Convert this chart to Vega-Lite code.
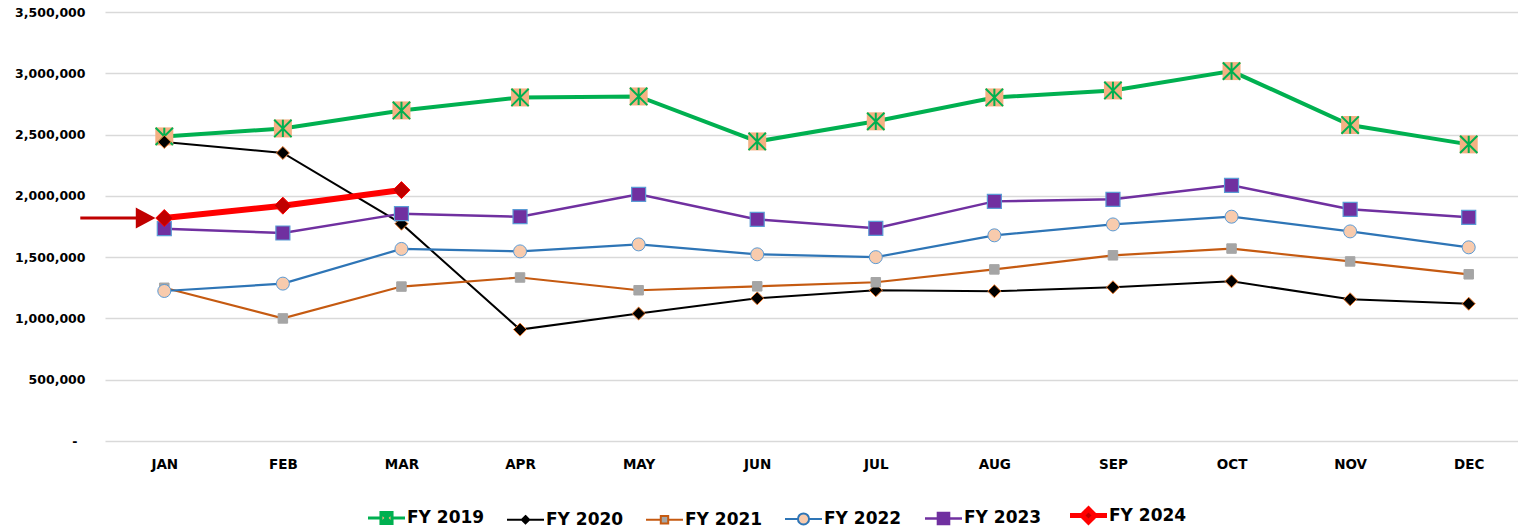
{
  "$schema": "https://vega.github.io/schema/vega-lite/v6.json",
  "width": 1423,
  "height": 429,
  "autosize": {"type": "none"},
  "padding": {"left": 105, "top": 12, "right": 0, "bottom": 89},
  "background": "white",
  "config": {"view": {"stroke": null}, "font": "DejaVu Sans"},
  "data": {"values": [
    {"month": "JAN", "series": "FY 2019", "value": 2485000},
    {"month": "FEB", "series": "FY 2019", "value": 2550000},
    {"month": "MAR", "series": "FY 2019", "value": 2697000},
    {"month": "APR", "series": "FY 2019", "value": 2803000},
    {"month": "MAY", "series": "FY 2019", "value": 2811000},
    {"month": "JUN", "series": "FY 2019", "value": 2444000},
    {"month": "JUL", "series": "FY 2019", "value": 2608000},
    {"month": "AUG", "series": "FY 2019", "value": 2803000},
    {"month": "SEP", "series": "FY 2019", "value": 2860000},
    {"month": "OCT", "series": "FY 2019", "value": 3018000},
    {"month": "NOV", "series": "FY 2019", "value": 2578000},
    {"month": "DEC", "series": "FY 2019", "value": 2420000},
    {"month": "JAN", "series": "FY 2020", "value": 2440000},
    {"month": "FEB", "series": "FY 2020", "value": 2350000},
    {"month": "MAR", "series": "FY 2020", "value": 1773000},
    {"month": "APR", "series": "FY 2020", "value": 909000},
    {"month": "MAY", "series": "FY 2020", "value": 1040000},
    {"month": "JUN", "series": "FY 2020", "value": 1164000},
    {"month": "JUL", "series": "FY 2020", "value": 1230000},
    {"month": "AUG", "series": "FY 2020", "value": 1222000},
    {"month": "SEP", "series": "FY 2020", "value": 1254000},
    {"month": "OCT", "series": "FY 2020", "value": 1303000},
    {"month": "NOV", "series": "FY 2020", "value": 1156000},
    {"month": "DEC", "series": "FY 2020", "value": 1120000},
    {"month": "JAN", "series": "FY 2021", "value": 1250000},
    {"month": "FEB", "series": "FY 2021", "value": 1000000},
    {"month": "MAR", "series": "FY 2021", "value": 1260000},
    {"month": "APR", "series": "FY 2021", "value": 1334000},
    {"month": "MAY", "series": "FY 2021", "value": 1230000},
    {"month": "JUN", "series": "FY 2021", "value": 1262000},
    {"month": "JUL", "series": "FY 2021", "value": 1295000},
    {"month": "AUG", "series": "FY 2021", "value": 1400000},
    {"month": "SEP", "series": "FY 2021", "value": 1515000},
    {"month": "OCT", "series": "FY 2021", "value": 1570000},
    {"month": "NOV", "series": "FY 2021", "value": 1465000},
    {"month": "DEC", "series": "FY 2021", "value": 1360000},
    {"month": "JAN", "series": "FY 2022", "value": 1224000},
    {"month": "FEB", "series": "FY 2022", "value": 1284000},
    {"month": "MAR", "series": "FY 2022", "value": 1567000},
    {"month": "APR", "series": "FY 2022", "value": 1547000},
    {"month": "MAY", "series": "FY 2022", "value": 1604000},
    {"month": "JUN", "series": "FY 2022", "value": 1523000},
    {"month": "JUL", "series": "FY 2022", "value": 1500000},
    {"month": "AUG", "series": "FY 2022", "value": 1678000},
    {"month": "SEP", "series": "FY 2022", "value": 1767000},
    {"month": "OCT", "series": "FY 2022", "value": 1830000},
    {"month": "NOV", "series": "FY 2022", "value": 1710000},
    {"month": "DEC", "series": "FY 2022", "value": 1580000},
    {"month": "JAN", "series": "FY 2023", "value": 1732000},
    {"month": "FEB", "series": "FY 2023", "value": 1697000},
    {"month": "MAR", "series": "FY 2023", "value": 1855000},
    {"month": "APR", "series": "FY 2023", "value": 1830000},
    {"month": "MAY", "series": "FY 2023", "value": 2012000},
    {"month": "JUN", "series": "FY 2023", "value": 1808000},
    {"month": "JUL", "series": "FY 2023", "value": 1735000},
    {"month": "AUG", "series": "FY 2023", "value": 1955000},
    {"month": "SEP", "series": "FY 2023", "value": 1972000},
    {"month": "OCT", "series": "FY 2023", "value": 2086000},
    {"month": "NOV", "series": "FY 2023", "value": 1890000},
    {"month": "DEC", "series": "FY 2023", "value": 1825000},
    {"month": "JAN", "series": "FY 2024", "value": 1819000},
    {"month": "FEB", "series": "FY 2024", "value": 1920000},
    {"month": "MAR", "series": "FY 2024", "value": 2047000}
  ]},
  "encoding": {
    "x": {
      "field": "month", "type": "ordinal",
      "sort": ["JAN","FEB","MAR","APR","MAY","JUN","JUL","AUG","SEP","OCT","NOV","DEC"],
      "axis": {"title": null, "domain": false, "ticks": false, "grid": false, "labelAngle": 0, "labelPadding": 16,
               "labelFont": "DejaVu Sans", "labelFontWeight": "bold", "labelFontSize": 13.5, "labelColor": "#000000"}
    },
    "y": {
      "field": "value", "type": "quantitative",
      "scale": {"domain": [0, 3500000], "nice": false},
      "axis": {"title": null, "domain": false, "ticks": false, "tickSize": 0, "grid": true, "gridColor": "#D9D9D9", "gridWidth": 1.5,
               "values": [0,500000,1000000,1500000,2000000,2500000,3000000,3500000],
               "labelPadding": {"condition": {"test": "datum.value == 0", "value": 28}, "value": 20},
               "labelFont": "DejaVu Sans", "labelFontWeight": "bold", "labelFontSize": 12.5, "labelColor": "#000000",
               "labelExpr": "datum.value == 0 ? '-' : format(datum.value, ',')"}
    }
  },
  "layer": [
    {"transform": [{"filter": "datum.series == 'FY 2019'"}], "mark": {"type": "line", "stroke": "#00B050", "strokeWidth": 4}, "encoding": {}},
    {"transform": [{"filter": "datum.series == 'FY 2020'"}], "mark": {"type": "line", "stroke": "#000000", "strokeWidth": 2}, "encoding": {}},
    {"transform": [{"filter": "datum.series == 'FY 2021'"}], "mark": {"type": "line", "stroke": "#C55A11", "strokeWidth": 2.2}, "encoding": {}},
    {"transform": [{"filter": "datum.series == 'FY 2022'"}], "mark": {"type": "line", "stroke": "#2E75B6", "strokeWidth": 2.2}, "encoding": {}},
    {"transform": [{"filter": "datum.series == 'FY 2023'"}], "mark": {"type": "line", "stroke": "#7030A0", "strokeWidth": 2.5}, "encoding": {}},
    {"transform": [{"filter": "datum.series == 'FY 2024'"}], "mark": {"type": "line", "stroke": "#FF0000", "strokeWidth": 6}, "encoding": {}},
    {
      "transform": [{"filter": "datum.series == 'FY 2019'"}],
      "mark": {"type": "point", "shape": "square", "size": 324, "filled": true, "fill": "#F4B183", "strokeWidth": 0, "opacity": 1}
    },
    {
      "transform": [{"filter": "datum.series == 'FY 2019'"}],
      "mark": {"type": "point", "shape": "M0,-1V1M-1,-1L1,1M-1,1L1,-1", "size": 300, "filled": false, "fill": null, "stroke": "#00B050", "strokeWidth": 2, "opacity": 1}
    },
    {
      "transform": [{"filter": "datum.series == 'FY 2020'"}],
      "mark": {"type": "point", "shape": "diamond", "size": 170, "filled": true, "fill": "#000000", "stroke": "#ED7D31", "strokeWidth": 1, "opacity": 1}
    },
    {
      "transform": [{"filter": "datum.series == 'FY 2021'"}],
      "mark": {"type": "point", "shape": "square", "size": 90, "filled": true, "fill": "#A5A5A5", "stroke": "#A5A5A5", "strokeWidth": 1, "opacity": 1}
    },
    {
      "transform": [{"filter": "datum.series == 'FY 2022'"}],
      "mark": {"type": "point", "shape": "circle", "size": 169, "filled": true, "fill": "#F8CBAD", "stroke": "#5B9BD5", "strokeWidth": 1, "opacity": 1}
    },
    {
      "transform": [{"filter": "datum.series == 'FY 2023'"}],
      "mark": {"type": "point", "shape": "square", "size": 196, "filled": true, "fill": "#7030A0", "stroke": "#5B9BD5", "strokeWidth": 1.2, "opacity": 1}
    },
    {
      "transform": [{"filter": "datum.series == 'FY 2024'"}],
      "mark": {"type": "point", "shape": "diamond", "size": 289, "filled": true, "fill": "#C00000", "stroke": "#FF0000", "strokeWidth": 1, "opacity": 1}
    },
    {
      "transform": [{"filter": "datum.series == 'FY 2024' && datum.month == 'JAN'"}],
      "mark": {"type": "point", "shape": "M-16.8,0H-5.4M-5.4,-1.6L-2.4,0L-5.4,1.6Z", "size": 100, "filled": true, "fill": "#C00000", "stroke": "#C00000", "strokeWidth": 3, "opacity": 1}
    },
    {
      "mark": {"type": "point", "filled": true, "opacity": 0},
      "encoding": {
        "fill": {
          "field": "series", "type": "nominal",
          "scale": {"domain": ["FY 2019","FY 2020","FY 2021","FY 2022","FY 2023","FY 2024"],
                    "range": ["#F4B183","#000000","#A5A5A5","#F8CBAD","#7030A0","#C00000"]},
          "legend": {
            "orient": "none", "legendX": 263, "legendY": 485, "direction": "horizontal", "title": null,
            "symbolSize": 1369, "labelFont": "DejaVu Sans", "labelFontWeight": "bold", "labelFontSize": 17,
            "labelColor": "#000000", "labelOffset": 2, "columnPadding": 18, "padding": 0,
            "encode": {
              "symbols": {"update": {
                "x": {"value": 18.5},
                "y": {"value": 18.5},
                "shape": {"signal": "({'FY 2019':'M-1,0H-0.3M0.3,0H1M-0.3,-0.3H0.3V0.3H-0.3ZM0,-0.3V0.3M-0.3,-0.3L0.3,0.3M-0.3,0.3L0.3,-0.3','FY 2020':'M-1,0H-0.2M0.2,0H1M0,-0.2L0.2,0L0,0.2L-0.2,0Z','FY 2021':'M-1,0H-0.2M0.2,0H1M-0.2,-0.2H0.2V0.2H-0.2Z','FY 2022':'M-1,0H-0.3M0.3,0H1M-0.3,0A0.3,0.3 0 1,0 0.3,0A0.3,0.3 0 1,0 -0.3,0Z','FY 2023':'M-1,0H-0.3M0.3,0H1M-0.3,-0.3H0.3V0.3H-0.3Z','FY 2024':'M-1,0H-0.3M0.3,0H1M0,-0.35L0.35,0L0,0.35L-0.35,0Z'})[datum.value]"},
                "strokeWidth": {"signal": "({'FY 2019':3,'FY 2020':2,'FY 2021':2,'FY 2022':2,'FY 2023':2.5,'FY 2024':5})[datum.value]"},
                "size": {"value": 1369},
                "opacity": {"value": 1},
                "fillOpacity": {"value": 1},
                "strokeOpacity": {"value": 1}
              }},
              "labels": {"update": {
                "x": {"value": 39},
                "y": {"value": 18.5},
                "baseline": {"value": "middle"}
              }}
            }
          }
        },
        "stroke": {
          "field": "series", "type": "nominal",
          "scale": {"domain": ["FY 2019","FY 2020","FY 2021","FY 2022","FY 2023","FY 2024"],
                    "range": ["#00B050","#000000","#C55A11","#2E75B6","#7030A0","#FF0000"]},
          "legend": {
            "orient": "none", "legendX": 263, "legendY": 485, "direction": "horizontal", "title": null,
            "symbolSize": 1369, "labelFont": "DejaVu Sans", "labelFontWeight": "bold", "labelFontSize": 17,
            "labelColor": "#000000", "labelOffset": 2, "columnPadding": 18, "padding": 0,
            "encode": {
              "symbols": {"update": {
                "x": {"value": 18.5},
                "y": {"value": 18.5},
                "shape": {"signal": "({'FY 2019':'M-1,0H-0.3M0.3,0H1M-0.3,-0.3H0.3V0.3H-0.3ZM0,-0.3V0.3M-0.3,-0.3L0.3,0.3M-0.3,0.3L0.3,-0.3','FY 2020':'M-1,0H-0.2M0.2,0H1M0,-0.2L0.2,0L0,0.2L-0.2,0Z','FY 2021':'M-1,0H-0.2M0.2,0H1M-0.2,-0.2H0.2V0.2H-0.2Z','FY 2022':'M-1,0H-0.3M0.3,0H1M-0.3,0A0.3,0.3 0 1,0 0.3,0A0.3,0.3 0 1,0 -0.3,0Z','FY 2023':'M-1,0H-0.3M0.3,0H1M-0.3,-0.3H0.3V0.3H-0.3Z','FY 2024':'M-1,0H-0.3M0.3,0H1M0,-0.35L0.35,0L0,0.35L-0.35,0Z'})[datum.value]"},
                "strokeWidth": {"signal": "({'FY 2019':3,'FY 2020':2,'FY 2021':2,'FY 2022':2,'FY 2023':2.5,'FY 2024':5})[datum.value]"},
                "size": {"value": 1369},
                "opacity": {"value": 1},
                "fillOpacity": {"value": 1},
                "strokeOpacity": {"value": 1}
              }},
              "labels": {"update": {
                "x": {"value": 39},
                "y": {"value": 18.5},
                "baseline": {"value": "middle"}
              }}
            }
          }
        }
      }
    }
  ]
}
